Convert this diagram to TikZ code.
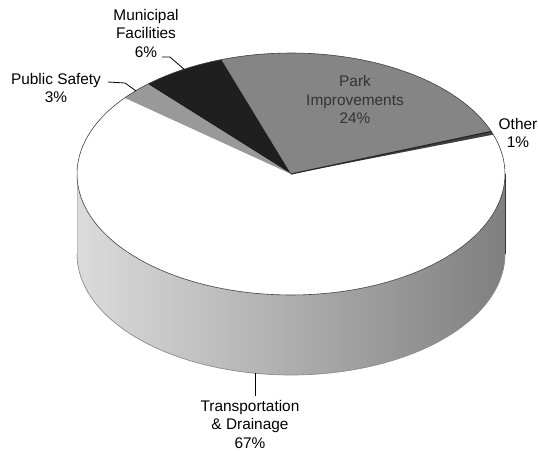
\documentclass[tikz,border=0pt]{standalone}
\usepackage{fontspec}
\setmainfont{Liberation Sans}

% pie geometry (pixel units)
\newcommand\pcx{291}
\newcommand\pcy{174}
\newcommand\prx{214}
\newcommand\pry{121}
\newcommand\pdep{80}
% one slice of the top face: from angle #1 to #2, style #3
\newcommand\pieslice[3]{\fill[#3] (c) -- plot[domain=#1:#2, samples=40] ({\pcx+\prx*cos(\x)},{\pcy-\pry*sin(\x)}) -- cycle;}

\begin{document}
\begin{tikzpicture}[
    x=1pt, y=-1pt,
    lbl/.style={align=center, font=\fontsize{15.4}{18.5}\selectfont, inner sep=0pt},
    leader/.style={draw=black, line width=0.8pt},
    rim/.style={draw=black!75, line width=0.6pt}
]
    \useasboundingbox (0,0) rectangle (538,450);
    \coordinate (c) at (\pcx,\pcy);

    % side of the cylinder
    \shade[left color=black!14, right color=black!50]
        plot[domain=180:360, samples=80] ({\pcx+\prx*cos(\x)},{\pcy-\pry*sin(\x)})
        -- plot[domain=360:180, samples=80] ({\pcx+\prx*cos(\x)},{\pcy+\pdep-\pry*sin(\x)}) -- cycle;
    \draw[draw=black!45, line width=0.7pt]
        plot[domain=180:360, samples=80] ({\pcx+\prx*cos(\x)},{\pcy+\pdep-\pry*sin(\x)});
    \draw[draw=black!80, line width=0.7pt] (\pcx+\prx,\pcy) -- ++(0,\pdep);
    \draw[draw=black!25, line width=0.5pt] (\pcx-\prx,\pcy) -- ++(0,\pdep);

    % top face
    \pieslice{141}{379}{white}
    \pieslice{19}{20.6}{black!75}
    \pieslice{20.6}{109}{black!48}
    \pieslice{109}{132}{black!88}
    \pieslice{132}{141}{black!40}
    \draw[black!85, line width=1.2pt] (c) -- ({\pcx+\prx*cos(20.6)},{\pcy-\pry*sin(20.6)});
    \draw[rim] plot[domain=0:360, samples=150] ({\pcx+\prx*cos(\x)},{\pcy-\pry*sin(\x)}) -- cycle;

    % labels
    \node[lbl] (muni) at (146,33) {Municipal\\Facilities\\6\%};
    \node[lbl] (safety) at (56,88) {Public Safety\\3\%};
    \node[lbl, text=black!80] (park) at (355,99.5) {Park\\Improvements\\24\%};
    \node[lbl] (other) at (518,133) {Other\\1\%};
    \node[lbl] (trans) at (250,424) {Transportation\\\& Drainage\\67\%};

    % leader lines
    \coordinate (muniRim) at ({\pcx+\prx*cos(120)},{\pcy-\pry*sin(120)});
    \coordinate (muniTip) at (162,57);
    \coordinate (safetyRim) at ({\pcx+\prx*cos(136.5)},{\pcy-\pry*sin(136.5)});
    \coordinate (safetyTip) at (108,82);
    \coordinate (transRim) at (255,373);
    \draw[leader] (muniTip) -- ++(8,0) -- (muniRim);
    \draw[leader] (safetyTip) -- (125,83) -- (safetyRim);
    \draw[leader] (transRim) -- ([yshift=4pt]transRim |- trans.north);
\end{tikzpicture}
\end{document}
